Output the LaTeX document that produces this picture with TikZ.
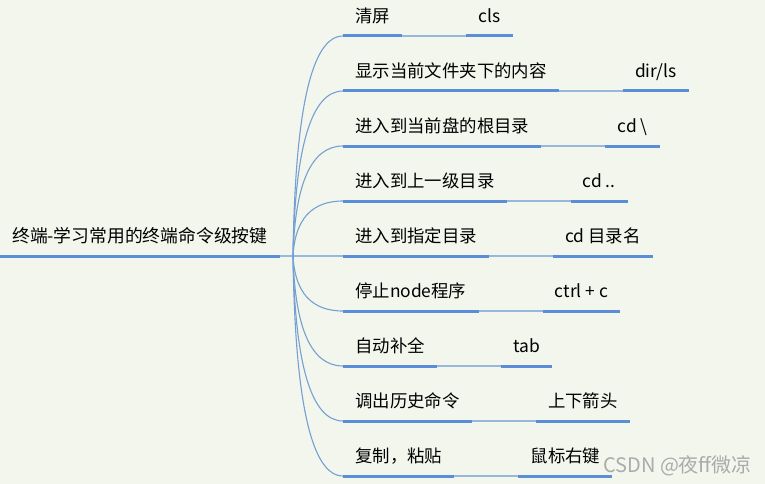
\documentclass[tikz,border=0pt]{standalone}
\usepackage{fontspec}
\setmainfont{Noto Sans CJK SC}
\usetikzlibrary{
    positioning,
    calc
}

\definecolor{bgcol}{HTML}{F3F6EC}
\definecolor{linecol}{HTML}{5B8ED6}
\definecolor{linkcol}{HTML}{97B7DB}
\definecolor{curvecol}{HTML}{74A0D3}
\definecolor{markcol}{HTML}{ABABAB}

\tikzset{
    topic/.style={inner xsep=12pt, inner ysep=0pt, text height=14pt,
                  text depth=13.5pt, anchor=south west,
                  font=\fontsize{17.4}{20}\selectfont},
    roottopic/.style={topic, font=\fontsize{17.8}{22}\selectfont},
    cmd/.style={topic, right=64pt of #1, anchor=south west},
    uline/.style={draw=linecol, line width=3pt},
    link/.style={draw=linkcol, line width=1.3pt},
    branchcurve/.style={draw=curvecol, line width=1.1pt}
}

\begin{document}
\begin{tikzpicture}[x=1pt,y=-1pt]

\fill[bgcol] (0,0) rectangle (765,484);
\useasboundingbox (0,0) rectangle (765,484);

% root
\node[roottopic] (root) at (0,256) {终端-学习常用的终端命令级按键};
\coordinate (j) at (293,256);
\coordinate (jc) at (296,256);

% branches
\node[topic] (b1) at (343,36)  {清屏};
\node[topic] (b2) at (343,91)  {显示当前文件夹下的内容};
\node[topic] (b3) at (343,146) {进入到当前盘的根目录};
\node[topic] (b4) at (343,201) {进入到上一级目录};
\node[topic] (b5) at (343,256) {进入到指定目录};
\node[topic] (b6) at (343,311) {停止node程序};
\node[topic] (b7) at (343,366) {自动补全};
\node[topic] (b8) at (343,421) {调出历史命令};
\node[topic] (b9) at (343,476) {复制，粘贴};

% commands
\node[cmd=b1.south east] (c1) {cls};
\node[cmd=b2.south east] (c2) {dir/ls};
\node[cmd=b3.south east] (c3) {cd \textbackslash};
\node[cmd=b4.south east] (c4) {cd ..};
\node[cmd=b5.south east] (c5) {cd 目录名};
\node[cmd=b6.south east] (c6) {ctrl + c};
\node[cmd=b7.south east] (c7) {tab};
\node[cmd=b8.south east] (c8) {上下箭头};
\node[cmd=b9.south east] (c9) {鼠标右键};

% connectors
\draw[link] (root.south east) -- (j);
\draw[link] (j) -- (b5.south west);
\foreach \b in {b1,b2,b3,b4,b6,b7,b8,b9}{
    \draw[branchcurve] (j)
        .. controls ($(j)!0.667!(jc |- \b.south west)$)
        and ($(\b.south west)!0.667!(jc |- \b.south west)$)
        .. (\b.south west);
}
\foreach \i in {1,...,9}{
    \draw[link] (b\i.south east) -- (c\i.south west);
}

% underlines
\foreach \n in {root,b1,b2,b3,b4,b5,b6,b7,b8,b9,c1,c2,c3,c4,c5,c6,c7,c8,c9}{
    \draw[uline] (\n.south west) -- (\n.south east);
}

% watermark
\node[anchor=east, text=markcol, inner sep=0pt,
      font=\fontsize{20}{22}\selectfont] (wm) at (752,466) {CSDN @夜ff微凉};

\end{tikzpicture}
\end{document}
